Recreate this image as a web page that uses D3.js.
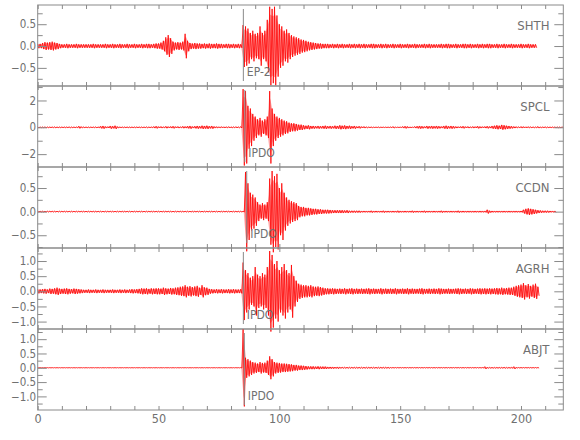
<!DOCTYPE html>
<html>
<head>
<meta charset="utf-8">
<script src="https://cdn.jsdelivr.net/npm/d3@7"></script>
<style>
  body { margin: 0; background: #fff; }
  svg text { font-family: "Liberation Sans Narrow", "DejaVu Sans Condensed", "Arial Narrow", sans-serif; font-stretch: condensed; fill: #707070; }
  .axis path, .axis line { stroke: #8a8a8a; }
</style>
</head>
<body>
<div class="chart"></div>
<script>
// one amplitude value per second (max |amplitude| in that second)
const dt = 1
const stations = ["SHTH", "SPCL", "CCDN", "AGRH", "ABJT"]
const pickNames = ["EP-2", "IPDO", "IPDO", "IPDO", "IPDO"]
const pickTimes = [85.1, 85.7, 86.5, 85.1, 85.5]

const shth = [
  .05,.05,.07,.09,.08,.09,.1,.08,.07,.05, .04,.04,.05,.04,.04,.04,.05,.04,.04,.04,
  .04,.04,.04,.05,.04,.04,.04,.04,.05,.04, .04,.05,.04,.04,.05,.04,.04,.05,.04,.04,
  .05,.04,.04,.05,.04,.05,.05,.04,.05,.06, .06,.08,.12,.2,.25,.18,.1,.08,.09,.08,
  .1,.28,.12,.07,.06,.07,.06,.06,.05,.06, .05,.06,.05,.05,.06,.05,.05,.04,.05,.05,
  .04,.05,.04,.05,.04, .48,.45,.4,.3,.35,.28,.3,.45,.3,.35,
  .6,.9,.85,.9,.7,.5,.45,.35,.38,.3, .25,.22,.2,.18,.15,.14,.12,.1,.09,.08,
  .07,.06,.06,.05,.05,.05,.04,.05,.04,.05, .04,.05,.04,.04,.05,.04,.05,.04,.05,.04,
  .05,.04,.04,.05,.05,.04,.04,.05,.04,.05, .04,.04,.05,.04,.04,.05,.04,.04,.05,.04,
  .04,.05,.04,.04,.04,.05,.04,.05,.04,.04, .04,.04,.05,.04,.05,.05,.04,.04,.05,.04,
  .04,.05,.05,.04,.05,.04,.04,.05,.04,.05, .04,.05,.05,.04,.04,.05,.04,.04,.05,.04,
  .04,.05,.04,.04,.04,.05,.04,.04,.05,.04,.04,.04
]
const spcl = [
  .04,.03,.03,.04,.03,.03,.03,.04,.03,.03, .03,.03,.03,.04,.03,.03,.03,.08,.05,.03,
  .03,.03,.03,.03,.04,.03,.08,.1,.06,.05, .1,.08,.12,.05,.03,.03,.03,.03,.03,.03,
  .03,.03,.03,.03,.03,.04,.03,.03,.06,.08, .05,.06,.04,.07,.05,.06,.08,.05,.06,.04,
  .07,.06,.08,.1,.06,.08,.1,.08,.12,.1, .12,.08,.1,.06,.05,.04,.05,.04,.04,.05,
  .04,.04,.05,.04,.05, 2.85,2.7,1.6,1.4,1.0,.8,.6,.7,.5,.6,
  .8,2.7,1.4,1.0,.8,.7,.6,.5,.45,.35, .3,.3,.25,.2,.2,.15,.12,.15,.1,.1,
  .08,.1,.08,.1,.12,.08,.1,.08,.12,.1, .15,.12,.14,.1,.12,.08,.1,.06,.08,.05,
  .06,.04,.03,.03,.02,.02,.03,.02,.02,.02, .02,.03,.06,.02,.02,.02,.06,.08,.06,.03,
  .02,.06,.08,.1,.08,.06,.1,.08,.1,.08, .1,.08,.06,.1,.12,.08,.1,.08,.06,.05,
  .06,.08,.05,.06,.04,.06,.05,.08,.06,.05, .06,.08,.06,.1,.12,.15,.12,.18,.15,.12,
  .1,.08,.06,.05,.04,.06,.05,.04,.05,.04, .04,.03,.06,.03,.03,.04,.03,.03,.03,.03,.03,.03,.03
]
const ccdn = [
  .01,.01,.01,.01,.01,.01,.01,.01,.01,.01, .01,.01,.01,.01,.01,.01,.01,.01,.01,.01,
  .01,.01,.01,.01,.01,.01,.01,.01,.01,.01, .01,.01,.01,.01,.01,.01,.01,.01,.01,.01,
  .01,.01,.01,.01,.01,.01,.01,.01,.01,.01, .01,.01,.01,.01,.01,.01,.01,.01,.01,.01,
  .01,.01,.01,.01,.01,.01,.01,.01,.01,.01, .01,.01,.01,.01,.01,.01,.01,.01,.01,.01,
  .01,.01,.01,.01,.01,.01, .84,.6,.4,.36,.3,.2,.15,.18,.15,.2,
  .7,.86,.75,.8,.5,.6,.4,.3,.25,.22, .2,.18,.12,.1,.1,.08,.08,.07,.06,.06,
  .05,.05,.04,.04,.04,.035,.03,.03,.03,.03, .03,.025,.03,.02,.02,.02,.02,.02,.015,.015,
  .015,.015,.02,.015,.015,.015,.015,.02,.015,.015, .015,.015,.015,.02,.015,.015,.015,.015,.015,.02,
  .015,.015,.015,.015,.02,.015,.015,.015,.015,.015, .015,.02,.015,.015,.015,.015,.015,.015,.02,.015,
  .015,.015,.015,.015,.015,.015,.015,.015,.015,.015, .04,.02,.015,.015,.015,.015,.015,.015,.015,.015,
  .015,.015,.015,.015,.015, .04,.06,.07,.06,.05,.04, .03,.025,.02,.02,.02,.015,.015,.015
]
const agrh = [
  .07,.06,.07,.08,.06,.09,.08,.1,.12,.09, .08,.09,.1,.08,.07,.09,.08,.07,.06,.05,
  .05,.06,.05,.05,.06,.05,.05,.06,.05,.05, .05,.06,.05,.05,.06,.05,.06,.05,.06,.07,
  .06,.07,.08,.1,.09,.1,.08,.1,.09,.1, .1,.09,.12,.1,.09,.11,.1,.12,.13,.15,
  .16,.2,.15,.17,.14,.16,.18,.12,.2,.13, .12,.08,.07,.06,.07,.06,.07,.06,.06,.07,
  .06,.07,.06,.06,.07, .95,.7,.6,.45,.5,.8,.55,.5,.6,.55,
  .8,1.33,1.2,.9,1.0,.7,.8,.9,.7,.6, .87,.5,.35,.25,.22,.2,.2,.18,.2,.16,
  .15,.16,.14,.12,.1,.1,.09,.1,.09,.08, .09,.08,.1,.08,.09,.1,.08,.09,.08,.09,
  .08,.09,.1,.08,.09,.08,.08,.1,.08,.09, .08,.09,.08,.1,.08,.08,.09,.08,.1,.08,
  .09,.08,.08,.09,.1,.08,.08,.09,.08,.09, .08,.1,.09,.08,.08,.09,.08,.08,.09,.1,
  .09,.08,.09,.08,.1,.09,.08,.09,.1,.09, .1,.09,.1,.09,.1,.11,.1,.12,.1,.11,
  .12,.12,.15,.18,.2,.22,.27,.2,.24,.18,.22,.25,.15
]
const abjt = [
  .005,.005,.005,.005,.005,.005,.005,.005,.005,.005, .005,.005,.005,.005,.005,.005,.005,.005,.005,.005,
  .005,.005,.005,.005,.005,.005,.005,.005,.005,.005, .005,.005,.005,.005,.005,.005,.005,.005,.005,.005,
  .005,.005,.005,.005,.005,.005,.005,.005,.005,.005, .005,.005,.005,.005,.005,.005,.005,.005,.005,.005,
  .005,.005,.005,.005,.005,.005,.005,.005,.005,.005, .005,.005,.005,.005,.005,.005,.005,.005,.005,.005,
  .005,.005,.005,.005,.005, 1.35,.35,.3,.25,.2,.18,.15,.2,.17,.18,
  .25,.4,.3,.2,.18,.17,.15,.15,.14,.13, .12,.1,.1,.08,.08,.07,.06,.05,.05,.05,
  .04,.05,.04,.04,.04,.03,.03,.03,.025,.03, .02,.02,.02,.02,.02,.02,.02,.02,.02,.02,
  .02,.02,.02,.02,.02,.02,.02,.02,.02,.02, .02,.01,.01,.01,.01,.01,.01,.01,.01,.01,
  .01,.01,.01,.01,.01,.01,.01,.01,.01,.01, .01,.01,.01,.01,.01,.01,.01,.01,.01,.01,
  .01,.01,.01,.01,.01,.01,.01,.01,.01,.01, .04,.015,.015,.015,.015,.015,.015,.015,.02,.015,
  .015,.015,.04,.01,.01,.01,.01,.01,.01,.01,.01,.01,.01
]
const traces = [shth, spcl, ccdn, agrh, abjt]

const yDomains = [[-0.915, 0.94], [-2.96, 3.08], [-0.77, 0.945], [-1.245, 1.43], [-1.475, 1.355]]
const yLabels = [[-0.5, 0, 0.5], [-2, 0, 2], [-0.5, 0, 0.5], [-1, -0.5, 0, 0.5, 1], [-1, -0.5, 0, 0.5, 1]]
const yMinor = [[-0.75, -0.25, 0.25, 0.75], [-1, 1, 3], [-0.75, -0.25, 0.25, 0.75],
  [-0.75, -0.25, 0.25, 0.75, 1.25], [-1.25, -0.75, -0.25, 0.25, 0.75, 1.25]]
const yFormats = [".1f", "d", ".1f", ".1f", ".1f"]
const xLabels = [0, 50, 100, 150, 200]
const xMinor = d3.range(0, 211, 10)

const width = 580, height = 440
const plotLeft = 37.7, plotRight = 563.3, plotTop = 5, panelH = 81

const svg = d3.select(".chart").append("svg")
  .attr("width", width)
  .attr("height", height)

const x = d3.scaleLinear().domain([0, 217.5]).range([plotLeft, plotRight])

stations.forEach((name, i) => {
  const y0 = plotTop + i * panelH
  const y = d3.scaleLinear().domain(yDomains[i]).range([y0 + panelH, y0])
  const g = svg.append("g")

  // light envelope under the trace
  const area = d3.area()
    .x((d, k) => x(k * dt + dt / 4))
    .y0(d => y(-d * 0.8))
    .y1(d => y(d * 0.8))
  g.append("path")
    .datum(traces[i])
    .attr("fill", "#ff0000")
    .attr("fill-opacity", 0.35)
    .attr("d", area)

  // waveform: each second goes up to +amp then down to -amp
  const pts = []
  traces[i].forEach((a, k) => {
    pts.push([k * dt, a])
    pts.push([k * dt + dt / 2, -a])
  })
  g.append("path")
    .datum(pts)
    .attr("fill", "none")
    .attr("stroke", "#ff0000")
    .attr("stroke-width", 0.8)
    .attr("d", d3.line().x(d => x(d[0])).y(d => y(d[1])))

  // pick marker
  g.append("line")
    .attr("x1", x(pickTimes[i])).attr("x2", x(pickTimes[i]))
    .attr("y1", y0 + 4).attr("y2", y0 + panelH - 5)
    .attr("stroke", "#8a8a8a")
    .attr("stroke-width", 1)
  g.append("text")
    .attr("x", x(pickTimes[i]) + 3.5)
    .attr("y", y0 + 71)
    .attr("font-size", 12)
    .text(pickNames[i])

  // frame and ticks
  g.append("rect")
    .attr("x", plotLeft).attr("y", y0)
    .attr("width", plotRight - plotLeft).attr("height", panelH)
    .attr("fill", "none").attr("stroke", "#8a8a8a")

  const fmt = d3.format(yFormats[i])
  const minor = yMinor[i].filter(v => v > yDomains[i][0] && v < yDomains[i][1])
  g.append("g").attr("class", "axis")
    .attr("transform", `translate(${plotLeft},0)`)
    .call(d3.axisLeft(y).tickValues(yLabels[i]).tickSize(-9).tickPadding(1.5)
      .tickFormat(v => fmt(v)))
    .call(a => a.select(".domain").remove())
    .selectAll("text").attr("font-size", 11.5)
  g.append("g").attr("class", "axis")
    .attr("transform", `translate(${plotLeft},0)`)
    .call(d3.axisLeft(y).tickValues(minor).tickSize(-5).tickFormat(""))
    .call(a => a.select(".domain").remove())
  g.append("g").attr("class", "axis")
    .attr("transform", `translate(${plotRight},0)`)
    .call(d3.axisRight(y).tickValues(yLabels[i]).tickSize(-9).tickFormat(""))
    .call(a => a.select(".domain").remove())
  g.append("g").attr("class", "axis")
    .attr("transform", `translate(${plotRight},0)`)
    .call(d3.axisRight(y).tickValues(minor).tickSize(-5).tickFormat(""))
    .call(a => a.select(".domain").remove())
  g.append("g").attr("class", "axis")
    .attr("transform", `translate(0,${y0})`)
    .call(d3.axisTop(x).tickValues(xMinor).tickSize(-4).tickFormat(""))
    .call(a => a.select(".domain").remove())
  const bottom = g.append("g").attr("class", "axis")
    .attr("transform", `translate(0,${y0 + panelH})`)
    .call(d3.axisBottom(x).tickValues(xMinor).tickSize(-4).tickPadding(4)
      .tickFormat(v => (i === stations.length - 1 && xLabels.includes(v)) ? v : ""))
    .call(a => a.select(".domain").remove())
  bottom.selectAll("text").attr("font-size", 12.5)

  g.append("text")
    .attr("x", 549.5)
    .attr("y", y0 + 24.5)
    .attr("text-anchor", "end")
    .attr("font-size", 13)
    .text(name)
})

svg.selectAll(".axis text").style("fill", "#707070")
</script>
</body>
</html>
